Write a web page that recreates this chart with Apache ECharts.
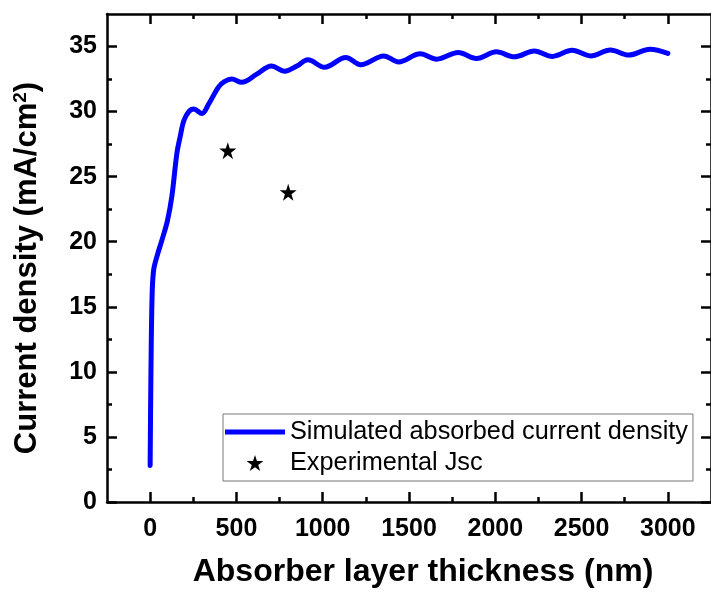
<!DOCTYPE html>
<html>
<head>
<meta charset="utf-8">
<script src="https://cdn.jsdelivr.net/npm/echarts@6/dist/echarts.min.js"></script>
<style>
html,body{margin:0;padding:0;background:#fff;}
#c{width:711px;height:593px;}
</style>
</head>
<body>
<div id="c"></div>
<script>
// ---- data ----
const thickness = [0, 4, 11, 20, 40, 70, 100, 126, 155, 176, 195, 224, 253, 300, 340, 397, 430, 473, 530, 620, 703, 780, 850, 914, 1010, 1134, 1220, 1354, 1440, 1565, 1661, 1785, 1891, 2006, 2111, 2226, 2331, 2446, 2552, 2667, 2772, 2897, 3000];
const simulated = [2.8, 9.1, 15.7, 17.8, 18.9, 20.2, 21.6, 23.5, 26.8, 28.2, 29.3, 30.0, 30.2, 29.85, 30.6, 31.9, 32.3, 32.5, 32.25, 32.9, 33.5, 33.1, 33.5, 33.98, 33.4, 34.16, 33.6, 34.28, 33.82, 34.45, 34.03, 34.54, 34.08, 34.59, 34.21, 34.66, 34.24, 34.71, 34.28, 34.74, 34.34, 34.8, 34.47];
const expThickness = [450, 800];
const expJsc = [27.0, 23.8];
const xMajorTicks = [0, 500, 1000, 1500, 2000, 2500, 3000];
const xMinorTicks = [250, 750, 1250, 1750, 2250, 2750];
const yMajorTicks = [0, 5, 10, 15, 20, 25, 30, 35];
const yMinorTicks = [2.5, 7.5, 12.5, 17.5, 22.5, 27.5, 32.5];
const seriesNames = ['Simulated absorbed current density', 'Experimental Jsc'];
const xTitle = 'Absorber layer thickness (nm)';
const yTitle = 'Current density (mA/cm{sup|2})';

const FONT = "'Liberation Sans', Arial, sans-serif";
const STAR = 'path://M50,0 L61.2,34.5 L97.6,34.5 L68.2,55.9 L79.4,90.5 L50,69.1 L20.6,90.5 L31.8,55.9 L2.4,34.5 L38.8,34.5 Z';
const LINE_ICON = 'path://M0,0 L60,0 L60,5 L0,5 Z';
const XMIN = -250, XMAX = 3250, YMIN = 0, YMAX = 37.5;
const LW = 2.5;
const plain = v => String(v);

function xAx(pos, ticks, len, showLine, labels) {
  return {
    type: 'value', position: pos, min: XMIN, max: XMAX,
    axisLine: {show: showLine, onZero: false, lineStyle: {color: '#000', width: LW}},
    axisTick: {show: true, inside: true, length: len, customValues: ticks, lineStyle: {color: '#000', width: LW}},
    axisLabel: labels ? {show: true, customValues: xMajorTicks, formatter: plain, margin: 15, color: '#000', fontSize: 25, fontWeight: 'bold', fontFamily: FONT} : {show: false},
    splitLine: {show: false}
  };
}
function yAx(pos, ticks, len, showLine, labels) {
  return {
    type: 'value', position: pos, min: YMIN, max: YMAX,
    axisLine: {show: showLine, onZero: false, lineStyle: {color: '#000', width: LW}},
    axisTick: {show: true, inside: true, length: len, customValues: ticks, lineStyle: {color: '#000', width: LW}},
    axisLabel: labels ? {show: true, customValues: yMajorTicks, formatter: plain, margin: 10, color: '#000', fontSize: 25, fontWeight: 'bold', fontFamily: FONT} : {show: false},
    splitLine: {show: false}
  };
}

const xAxes = [
  Object.assign(xAx('bottom', xMajorTicks, 10, true, true), {
    name: xTitle, nameLocation: 'middle', nameGap: 54,
    nameTextStyle: {fontSize: 32, fontWeight: 'bold', color: '#000', fontFamily: FONT, padding: [0, 0, 0, 28]}
  }),
  xAx('bottom', xMinorTicks, 5, false, false),
  xAx('top', xMajorTicks, 10, true, false),
  xAx('top', xMinorTicks, 5, false, false)
];
const yAxes = [
  Object.assign(yAx('left', yMajorTicks, 10, true, true), {
    name: yTitle, nameLocation: 'middle', nameGap: 63,
    nameTextStyle: {fontSize: 31, fontWeight: 'bold', color: '#000', fontFamily: FONT, padding: [0, 20, 0, 0],
      rich: {sup: {fontSize: 19, fontWeight: 'bold', color: '#000', fontFamily: FONT, verticalAlign: 'top', padding: [0, 0, 14, 0]}}}
  }),
  yAx('left', yMinorTicks, 5, false, false),
  yAx('right', yMajorTicks, 10, true, false),
  yAx('right', yMinorTicks, 5, false, false)
];

const chart = echarts.init(document.getElementById('c'), null, {renderer: 'canvas'});
chart.setOption({
  animation: false,
  backgroundColor: '#fff',
  grid: {left: 107, right: -6, top: 14, bottom: 87, containLabel: false},
  xAxis: xAxes,
  yAxis: yAxes,
  legend: {
    orient: 'vertical', left: 223, top: 414,
    itemWidth: 60, itemHeight: 16, itemGap: 3,
    padding: [4, 5, 4, 2],
    borderColor: '#777', borderWidth: 1,
    textStyle: {fontSize: 25.3, color: '#000', fontFamily: FONT, lineHeight: 28},
    data: [
      {name: seriesNames[0], icon: LINE_ICON},
      {name: seriesNames[1], icon: STAR}
    ]
  },
  series: [
    {
      name: seriesNames[0], type: 'line', xAxisIndex: 0, yAxisIndex: 0,
      data: thickness.map((t, i) => [t, simulated[i]]),
      smooth: 0.35, showSymbol: false, symbol: 'none',
      lineStyle: {color: '#0000ff', width: 5, cap: 'round', join: 'round'},
      itemStyle: {color: '#0000ff', opacity: 1}
    },
    {
      name: seriesNames[1], type: 'scatter', xAxisIndex: 0, yAxisIndex: 0,
      data: expThickness.map((t, i) => [t, expJsc[i]]),
      symbol: STAR, symbolSize: 17,
      itemStyle: {color: '#000', opacity: 1}
    }
  ]
});
</script>
</body>
</html>
